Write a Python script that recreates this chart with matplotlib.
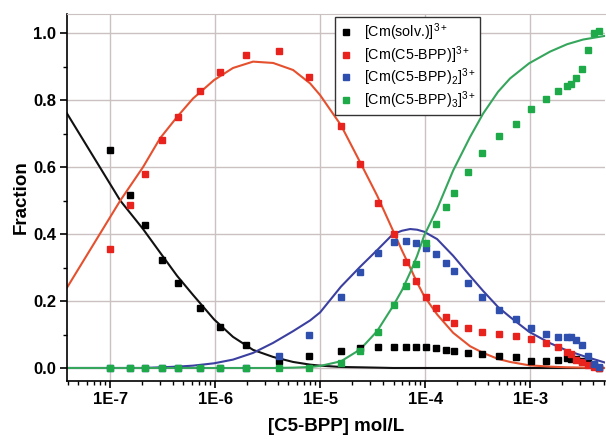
import numpy as np
import matplotlib
matplotlib.use('Agg')
import matplotlib.pyplot as plt
from matplotlib import rcParams
from matplotlib.ticker import FixedLocator, FuncFormatter, LogLocator, MultipleLocator, NullFormatter

rcParams.update({
    'font.family': ['Liberation Sans', 'DejaVu Sans'],
    'mathtext.fontset': 'custom',
    'mathtext.rm': 'Liberation Sans',
    'mathtext.it': 'Liberation Sans',
    'mathtext.bf': 'Liberation Sans:bold',
})

# measured points (titration), [C5-BPP] in mol/L
conc = [1.00e-7, 1.56e-7, 2.15e-7, 3.10e-7, 4.47e-7, 7.19e-7, 1.12e-6, 1.97e-6,
        4.03e-6, 7.76e-6, 1.58e-5, 2.40e-5, 3.52e-5, 5.10e-5, 6.52e-5, 8.20e-5,
        1.02e-4, 1.27e-4, 1.57e-4, 1.90e-4, 2.55e-4, 3.47e-4, 5.07e-4, 7.36e-4,
        1.01e-3, 1.42e-3, 1.86e-3, 2.25e-3, 2.45e-3, 2.74e-3, 3.09e-3, 3.56e-3,
        4.07e-3, 4.54e-3]
solv = [0.651, 0.518, 0.427, 0.324, 0.255, 0.178, 0.122, 0.070, 0.021, 0.036,
        0.052, 0.059, 0.064, 0.064, 0.064, 0.064, 0.062, 0.059, 0.054, 0.052,
        0.046, 0.041, 0.037, 0.032, 0.022, 0.022, 0.025, 0.030, 0.028, 0.026,
        0.021, 0.019, 0.010, 0.000]
bpp1 = [0.354, 0.488, 0.578, 0.681, 0.750, 0.827, 0.883, 0.935, 0.946, 0.870,
        0.723, 0.609, 0.493, 0.400, 0.317, 0.260, 0.213, 0.178, 0.153, 0.133,
        0.118, 0.107, 0.101, 0.095, 0.088, 0.074, 0.063, 0.048, 0.042, 0.025,
        0.019, 0.010, 0.002, 0.000]
bpp2 = [0.000, 0.000, 0.000, 0.000, 0.000, 0.000, 0.000, 0.000, 0.036, 0.099,
        0.213, 0.288, 0.342, 0.377, 0.380, 0.374, 0.357, 0.340, 0.314, 0.290,
        0.253, 0.211, 0.173, 0.145, 0.118, 0.101, 0.092, 0.094, 0.094, 0.084,
        0.069, 0.036, 0.012, 0.002]
bpp3 = [0.000, 0.000, 0.000, 0.000, 0.000, 0.000, 0.000, 0.000, 0.000, 0.000,
        0.014, 0.052, 0.106, 0.188, 0.245, 0.310, 0.372, 0.429, 0.482, 0.524,
        0.585, 0.642, 0.692, 0.730, 0.774, 0.803, 0.827, 0.842, 0.848, 0.865,
        0.892, 0.951, 0.999, 1.006]

# fitted speciation curves
fit_conc = [3.89e-8, 1.25e-7, 2.06e-7, 2.99e-7, 4.35e-7, 6.17e-7, 9.78e-7, 1.48e-6,
            2.30e-6, 3.57e-6, 5.53e-6, 8.03e-6, 1.00e-5, 1.58e-5, 2.40e-5, 3.49e-5,
            4.95e-5, 6.04e-5, 7.20e-5, 8.39e-5, 9.78e-5, 1.30e-4, 1.85e-4, 2.68e-4,
            3.57e-4, 4.95e-4, 6.45e-4, 9.78e-4, 1.55e-3, 2.25e-3, 3.20e-3, 5.18e-3]
fit_solv = [0.760, 0.500, 0.415, 0.345, 0.275, 0.218, 0.145, 0.093, 0.054, 0.033,
            0.018, 0.010, 0.007, 0.003, 0.002, 0.001, 0.000, 0.000, 0.000, 0.000,
            0.000, 0.000, 0.000, 0.000, 0.000, 0.000, 0.000, 0.000, 0.000, 0.000,
            0.000, 0.000]
fit_bpp1 = [0.240, 0.500, 0.600, 0.686, 0.750, 0.805, 0.860, 0.896, 0.915, 0.911,
            0.890, 0.850, 0.815, 0.725, 0.615, 0.515, 0.410, 0.350, 0.300, 0.255,
            0.215, 0.160, 0.105, 0.065, 0.045, 0.027, 0.018, 0.008, 0.004, 0.002,
            0.001, 0.000]
fit_bpp2 = [0.000, 0.000, 0.000, 0.002, 0.004, 0.007, 0.014, 0.025, 0.045, 0.075,
            0.110, 0.142, 0.166, 0.243, 0.302, 0.352, 0.400, 0.410, 0.415, 0.413,
            0.407, 0.385, 0.335, 0.275, 0.230, 0.182, 0.152, 0.108, 0.074, 0.052,
            0.036, 0.016]
fit_bpp3 = [0.000, 0.000, 0.000, 0.000, 0.000, 0.000, 0.000, 0.000, 0.000, 0.000,
            0.001, 0.003, 0.006, 0.020, 0.055, 0.110, 0.185, 0.233, 0.285, 0.335,
            0.395, 0.475, 0.590, 0.690, 0.760, 0.825, 0.865, 0.910, 0.945, 0.967,
            0.981, 0.992]

labels = ['[Cm(solv.)]$^{3+}$', '[Cm(C5-BPP)]$^{3+}$',
          '[Cm(C5-BPP)$_2$]$^{3+}$', '[Cm(C5-BPP)$_3$]$^{3+}$']
marker_colors = ['#000000', '#e8221c', '#2f4fae', '#1faa4a']
line_colors = ['#111111', '#e5502e', '#3b40a0', '#35a65c']

fig = plt.figure(figsize=(6.06, 4.40), dpi=100)
ax = fig.add_axes([0.1106, 0.134, 0.888, 0.834])

fits = [fit_solv, fit_bpp1, fit_bpp2, fit_bpp3]
points = [solv, bpp1, bpp2, bpp3]
for y, c in zip(fits, line_colors):
    ax.plot(fit_conc, y, color=c, lw=1.5, zorder=2)
for y, c, lab in zip(points, marker_colors, labels):
    ax.plot(conc, y, ls='none', marker='s', ms=4.6, mec=c, mfc=c, label=lab, zorder=3)

ax.set_xscale('log')
ax.set_xlim(3.89e-8, 5.18e-3)
ax.set_ylim(-0.039, 1.057)

ax.xaxis.set_major_locator(FixedLocator([1e-7, 1e-6, 1e-5, 1e-4, 1e-3]))
ax.xaxis.set_major_formatter(FuncFormatter(lambda v, p: '1E%d' % int(round(np.log10(v)))))
ax.xaxis.set_minor_locator(LogLocator(base=10, subs=np.arange(2, 10)))
ax.xaxis.set_minor_formatter(NullFormatter())
ax.yaxis.set_major_locator(MultipleLocator(0.2))
ax.yaxis.set_minor_locator(MultipleLocator(0.1))
ax.yaxis.set_major_formatter(FuncFormatter(lambda v, p: '%.1f' % v))

ax.grid(True, which='major', color='#cbc1c1', lw=1.0, zorder=0)
ax.set_axisbelow(True)
ax.tick_params(which='major', direction='out', length=5, width=1.2, labelsize=12, pad=3)
ax.tick_params(which='minor', direction='out', length=3, width=1.0)
ax.tick_params(top=False, right=False, which='both')
for t in ax.get_xticklabels() + ax.get_yticklabels():
    t.set_fontweight('bold')

ax.spines['left'].set_linewidth(1.2)
ax.spines['bottom'].set_linewidth(1.2)
ax.spines['top'].set_color('#cbc1c1')
ax.spines['right'].set_visible(False)

ax.set_xlabel('[C5-BPP] mol/L', fontsize=13.5, fontweight='bold', labelpad=8)
ax.set_ylabel('Fraction', fontsize=13.5, fontweight='bold', labelpad=2)

leg = ax.legend(loc='upper left', bbox_to_anchor=(0.498, 0.992), borderaxespad=0,
                fontsize=10.3, frameon=True, fancybox=False, edgecolor='#333333',
                framealpha=1, handlelength=0.9, handletextpad=0.8, borderpad=0.3,
                labelspacing=0.08, markerscale=0.85)
leg.get_frame().set_linewidth(1.0)

plt.savefig('out.png', dpi=100)
